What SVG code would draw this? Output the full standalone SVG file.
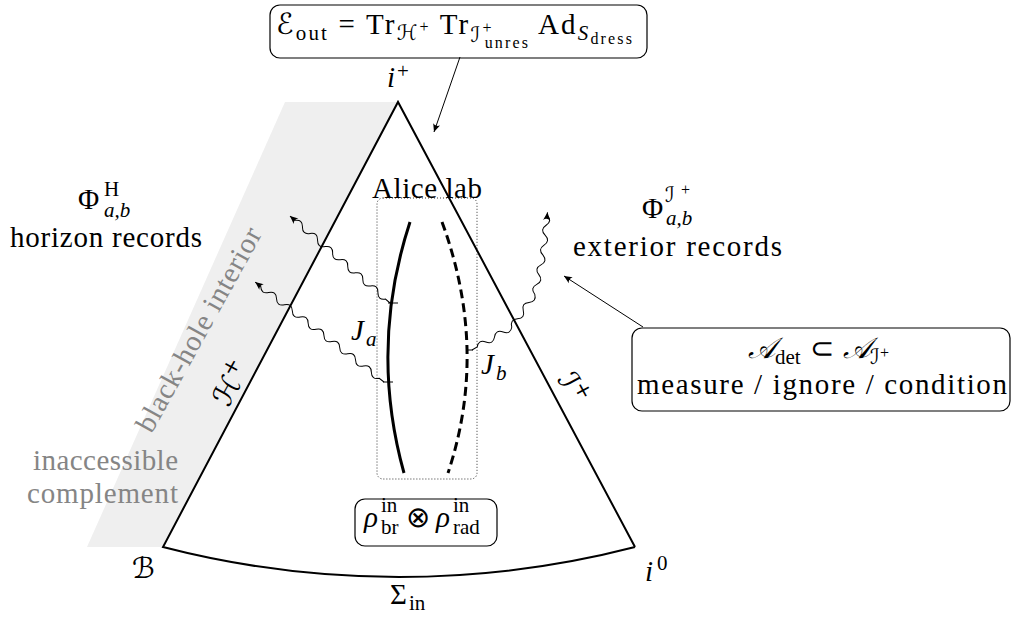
<svg xmlns="http://www.w3.org/2000/svg" width="1016" height="617" viewBox="0 0 1016 617">
<style>
text{font-family:"Liberation Serif",serif;font-size:29px;fill:#000}
.i{font-style:italic}
.s{font-size:21px}
.ss{font-size:16px}
.scr{font-family:"DejaVu Serif","DejaVu Sans",serif;font-style:italic}
.sym{font-family:"DejaVu Sans",serif;font-style:normal;font-weight:200}
.g{fill:#858585}
.box{fill:#fff;stroke:#000;stroke-width:1.2}
.wave{fill:none;stroke:#000;stroke-width:1}
.arr{fill:none;stroke:#000;stroke-width:1}
.tick{stroke:#000;stroke-width:1}
</style>
<defs>
<marker id="ah" viewBox="-9 -5 10 10" refX="0" refY="0" markerWidth="10" markerHeight="10" orient="auto" markerUnits="userSpaceOnUse">
<path d="M0,0 L-8,-3.6 Q-5,0 -8,3.6 Z" fill="#000"/>
</marker>
</defs>

<g id="interior">
<polygon points="285,102 398,102 163,547 87,547" fill="#efefef"/>
<text class="g" transform="translate(207,334) rotate(-61)" text-anchor="middle" textLength="229" lengthAdjust="spacing">black-hole interior</text>
<text class="g" x="178" y="470" text-anchor="end" textLength="145" lengthAdjust="spacing">inaccessible</text>
<text class="g" x="178" y="503" text-anchor="end" textLength="151" lengthAdjust="spacing">complement</text>
</g>

<g id="diagram">
<path d="M635,547 L398,102 L163,547 A943,943 0 0 0 635,547" fill="none" stroke="#000" stroke-width="2" stroke-linejoin="miter"/>
<text class="i" x="387" y="87">i</text><text class="s" x="397" y="78">+</text>
<text class="scr" x="132" y="578">ℬ</text>
<text class="i" x="645" y="581">i</text><text class="s" x="657" y="570">0</text>
<text x="390" y="604">Σ</text><text class="s" x="409" y="610">in</text>
<text class="scr" transform="translate(231,383) rotate(-61)" text-anchor="middle" dominant-baseline="central">ℋ<tspan class="s" dy="-8" font-style="normal">+</tspan></text>
<text class="scr" transform="translate(573,388) rotate(62)" text-anchor="middle" dominant-baseline="central">ℐ<tspan class="s" dy="-8" font-style="normal">+</tspan></text>
</g>

<g id="lab">
<rect x="377" y="198" width="100" height="281" rx="6" fill="none" stroke="#000" stroke-width="0.8" stroke-dasharray="1,2"/>
<text x="372" y="198" textLength="110" lengthAdjust="spacing">Alice lab</text>
<path d="M410,222 Q369,347 404,473" fill="none" stroke="#000" stroke-width="3"/>
<path d="M442,222 Q489,350 448,473" fill="none" stroke="#000" stroke-width="3" stroke-dasharray="9,5"/>
<text class="i" x="351" y="340">J</text><text class="s i" x="366" y="346">a</text>
<text class="i" x="481" y="374">J</text><text class="s i" x="496" y="380">b</text>
</g>

<g id="eout">
<rect class="box" x="270" y="5" width="377" height="53" rx="10"/>
<text x="276" y="34" xml:space="preserve" textLength="356" lengthAdjust="spacing"><tspan class="scr">ℰ</tspan><tspan class="s" dy="6">out</tspan><tspan dy="-6"> = Tr</tspan><tspan class="s scr" dy="6">ℋ</tspan><tspan class="ss" dy="-8">+</tspan><tspan dy="2"> Tr</tspan><tspan class="s scr" dy="8">ℐ</tspan><tspan class="ss" dy="-9">+</tspan><tspan class="ss" dx="-9" dy="15">unres</tspan><tspan dy="-14"> Ad</tspan><tspan class="s i" dy="6">S</tspan><tspan class="ss" dy="4">dress</tspan></text>
</g>

<g id="horizon-records">
<text x="78" y="209">Φ</text>
<text class="s" x="104" y="196">H</text>
<text class="s i" x="104" y="217">a,b</text>
<text x="10" y="247" textLength="192" lengthAdjust="spacing">horizon records</text>
</g>

<g id="exterior-records">
<text x="642" y="218">Φ</text>
<text class="s scr" x="665" y="202">ℐ</text>
<text class="ss" x="681" y="195">+</text>
<text class="s i" x="666" y="225">a,b</text>
<text x="573" y="256" textLength="209" lengthAdjust="spacing">exterior records</text>
</g>

<g id="adet">
<rect class="box" x="632" y="328" width="378" height="83" rx="10"/>
<text x="748" y="358" xml:space="preserve"><tspan class="scr">𝒜</tspan><tspan class="s" dy="6">det</tspan><tspan class="sym" dy="-6"> ⊂ </tspan><tspan class="scr">𝒜</tspan><tspan class="s scr" dy="6">ℐ</tspan><tspan class="ss" dy="-6">+</tspan></text>
<text x="637" y="394" textLength="370" lengthAdjust="spacing">measure / ignore / condition</text>
</g>

<g id="rho">
<rect class="box" x="355" y="499" width="142" height="47" rx="10"/>
<text class="i" x="364" y="527" font-size="30">ρ</text>
<text class="s" x="381" y="512">in</text>
<text class="s" x="381" y="534">br</text>
<text class="sym" x="406" y="527" font-size="24">⊗</text>
<text class="i" x="436" y="527" font-size="30">ρ</text>
<text class="s" x="453" y="512">in</text>
<text class="s" x="453" y="534">rad</text>
</g>

<g id="connectors">
<path class="arr" d="M460,57 L434,132" marker-end="url(#ah)"/>
<path class="arr" d="M643,327 L564,276" marker-end="url(#ah)"/>
<line class="tick" x1="388" y1="303" x2="398" y2="303"/>
<line class="tick" x1="383" y1="382" x2="393" y2="382"/>
<line class="tick" x1="466" y1="350" x2="473" y2="350"/>
<g transform="translate(390,303) rotate(-139)">
<path class="wave" d="M0,0 h6 q5,-6 10,0 t10,0 t10,0 t10,0 t10,0 t10,0 t10,0 t10,0 t10,0 t10,0 t10,0 t10,0 h6.5" marker-end="url(#ah)"/>
</g>
<g transform="translate(384,382) rotate(-142.2)">
<path class="wave" d="M0,0 h6 q5,-6 10,0 t10,0 t10,0 t10,0 t10,0 t10,0 t10,0 t10,0 t10,0 t10,0 t10,0 t10,0 t10,0 t10,0 t10,0 h7" marker-end="url(#ah)"/>
</g>
<g transform="translate(472,350) rotate(-30)">
<path class="wave" d="M0,0 h6 q5,-6 10,0 t10,0 t10,0 t10,0"/>
</g>
<g transform="translate(511.8,327) rotate(-55)">
<path class="wave" d="M0,0 q5,-6 10,0 t10,0 t10,0 t10,0"/>
</g>
<g transform="translate(534.7,294.2) rotate(-78)">
<path class="wave" d="M0,0 q5,-6 10,0 t10,0 t10,0 t10,0"/>
</g>
<g transform="translate(543,255.1) rotate(-84)">
<path class="wave" d="M0,0 q5,-6 10,0 t10,0 t10,0 t10,0 h3" marker-end="url(#ah)"/>
</g>
</g>
</svg>
